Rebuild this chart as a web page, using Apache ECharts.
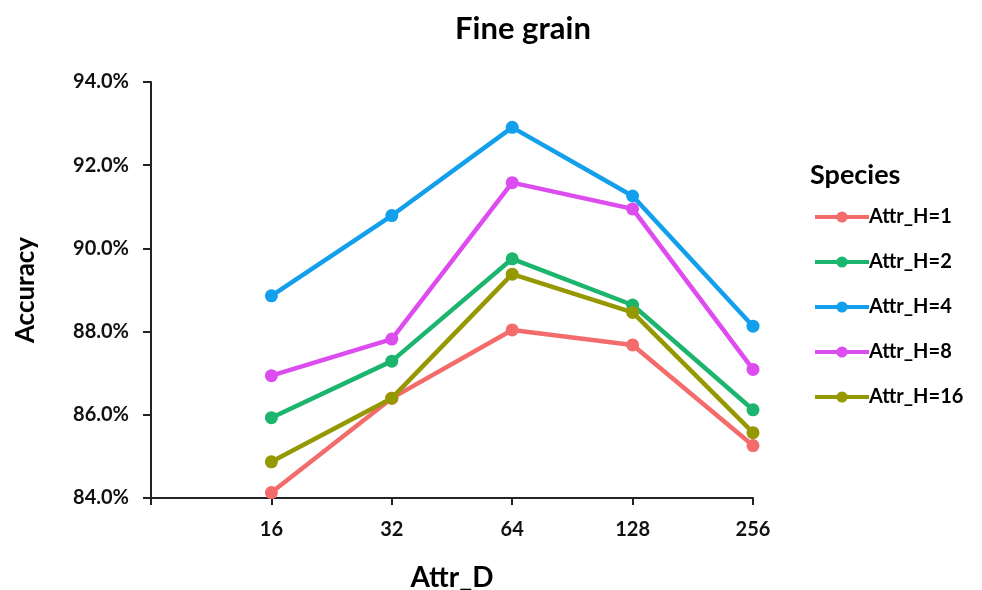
<!DOCTYPE html>
<html>
<head>
<meta charset="utf-8">
<script src="https://cdn.jsdelivr.net/npm/echarts@6/dist/echarts.min.js"></script>
<style>
html,body{margin:0;padding:0;background:#fff;}
#chart{width:982px;height:590px;}
</style>
</head>
<body>
<div id="chart"></div>
<script>
var categories = ['', '16', '32', '64', '128', '256'];
var seriesNames = ['Attr_H=1', 'Attr_H=2', 'Attr_H=4', 'Attr_H=8', 'Attr_H=16'];
var h1 = [null, 84.13, 86.40, 88.04, 87.68, 85.26];
var h2 = [null, 85.93, 87.29, 89.75, 88.64, 86.12];
var h4 = [null, 88.86, 90.79, 92.91, 91.26, 88.13];
var h8 = [null, 86.94, 87.82, 91.58, 90.95, 87.09];
var h16 = [null, 84.87, 86.40, 89.38, 88.46, 85.57];
var yTicks = [84, 86, 88, 90, 92, 94];
var colors = ['#F36B6B', '#1BB56E', '#129FEC', '#DC4CEE', '#959800'];
var allData = [h1, h2, h4, h8, h16];

var FONT = 'Lato';
var chart = echarts.init(document.getElementById('chart'));
var series = seriesNames.map(function (n, i) {
  return {
    name: n,
    type: 'line',
    data: allData[i],
    symbol: 'circle',
    symbolSize: 13,
    lineStyle: { width: 4.5, color: colors[i] },
    itemStyle: { color: colors[i] },
    emphasis: { disabled: true },
    animation: false
  };
});
chart.setOption({
  backgroundColor: '#fff',
  animation: false,
  title: [{
    text: 'Fine grain',
    left: 518, top: 8, textAlign: 'center',
    textStyle: { fontFamily: FONT, fontWeight: 'bold', fontSize: 31, color: '#000' }
  }, {
    text: 'Species',
    left: 805, top: 157,
    textStyle: { fontFamily: FONT, fontWeight: 'bold', fontSize: 27, color: '#000' }
  }],
  grid: { left: 151, right: 229, top: 82, bottom: 92, containLabel: false, outerBoundsMode: 'none' },
  legend: {
    orient: 'vertical',
    left: 808, top: 201,
    itemWidth: 54, itemHeight: 14,
    itemGap: 23,
    data: seriesNames,
    lineStyle: { width: 4 },
    textStyle: { fontFamily: FONT, fontWeight: 'bold', fontSize: 20, color: '#000', lineHeight: 22, padding: [0, 0, 0, -5] },
    selectedMode: false
  },
  xAxis: {
    type: 'category',
    data: categories,
    boundaryGap: false,
    name: 'Attr_D',
    nameLocation: 'middle',
    nameGap: 66,
    nameTextStyle: { fontFamily: FONT, fontWeight: 'bold', fontSize: 28, color: '#000' },
    axisLine: { lineStyle: { color: '#222', width: 2 } },
    axisTick: { show: true, alignWithLabel: true, length: 7, lineStyle: { color: '#222', width: 2 }, interval: 0 },
    axisLabel: { interval: 0, fontFamily: FONT, fontWeight: 'bold', fontSize: 20, color: '#111', margin: 22 },
    splitLine: { show: false }
  },
  yAxis: {
    type: 'value',
    min: 84, max: 94, interval: 2,
    name: 'Accuracy',
    nameLocation: 'middle',
    nameGap: 112,
    nameTextStyle: { fontFamily: FONT, fontWeight: 'bold', fontSize: 26, color: '#000' },
    axisLine: { show: true, lineStyle: { color: '#222', width: 2 } },
    axisTick: { show: true, length: 8, lineStyle: { color: '#222', width: 2 } },
    axisLabel: {
      fontFamily: FONT, fontWeight: 'bold', fontSize: 20, color: '#111', margin: 22,
      formatter: function (v) { return yTicks.indexOf(v) >= 0 ? v.toFixed(1) + '%' : ''; }
    },
    splitLine: { show: false }
  },
  series: series
});
</script>
</body>
</html>
